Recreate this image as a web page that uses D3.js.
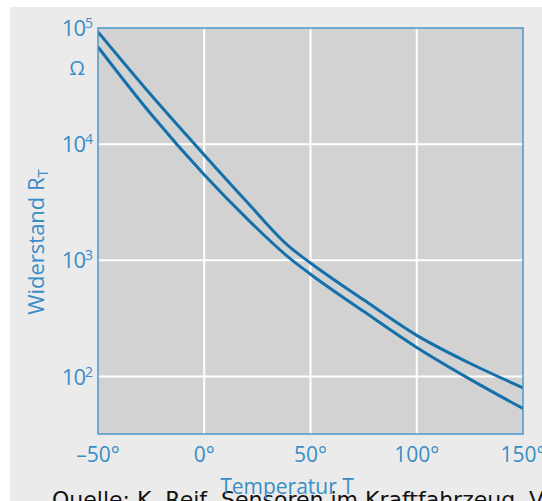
<!DOCTYPE html>
<html>
<head>
<meta charset="utf-8">
<script src="https://cdn.jsdelivr.net/npm/d3@7"></script>
<style>
  body { margin: 0; background: #fff; }
  svg { display: block; }
</style>
</head>
<body>
<div id="chart"></div>
<script>
// NTC-Kennlinien, Widerstand über Temperatur (log-Skala)

var temps = [-50, -25, 0, 20, 40, 50, 75, 100, 125, 150];
var upperR = [92400, 26450, 8070, 3195, 1312, 950, 457, 226, 130, 80];
var lowerR = [68660, 18090, 5460, 2296, 1051, 760, 364, 178, 95, 53];

var xTicks = [-50, 0, 50, 100, 150];
var xTickLabels = ["\u201350\u00b0", "0\u00b0", "50\u00b0", "100\u00b0", "150\u00b0"];
var yTicks = [100, 1000, 10000, 100000];
var yExponents = ["2", "3", "4", "5"];

var W = 542, H = 501;
var margin = {top: 28, right: 19, bottom: 67, left: 98},
    width = W - margin.left - margin.right,
    height = H - margin.top - margin.bottom;

var blue = "#1470ab", textBlue = "#3a8dc6", frame = "#4a98cc";

var svg = d3.select("#chart").append("svg")
    .attr("width", W)
    .attr("height", H);

// grauer Hintergrund
svg.append("rect")
    .attr("x", 10).attr("y", 7)
    .attr("width", W - 10).attr("height", H - 7)
    .attr("fill", "#ebebeb");

var g = svg.append("g")
    .attr("transform", "translate(" + margin.left + "," + margin.top + ")");

var x = d3.scaleLinear().domain([-50, 150]).range([0, width]);
var y = d3.scaleLog().domain([32, 100000]).range([height, 0]);

g.append("rect")
    .attr("width", width).attr("height", height)
    .attr("fill", "#d1d2d1");

// Gitter
g.selectAll(".vgrid")
    .data(xTicks.slice(1, -1))
  .enter().append("line")
    .attr("x1", function(d) { return x(d); })
    .attr("x2", function(d) { return x(d); })
    .attr("y1", 0).attr("y2", height)
    .attr("stroke", "#fff").attr("stroke-width", 2);

g.selectAll(".hgrid")
    .data(yTicks.slice(0, -1))
  .enter().append("line")
    .attr("x1", 0).attr("x2", width)
    .attr("y1", function(d) { return y(d); })
    .attr("y2", function(d) { return y(d); })
    .attr("stroke", "#fff").attr("stroke-width", 2);

g.append("clipPath").attr("id", "clip")
  .append("rect").attr("width", width).attr("height", height);

var line = d3.line()
    .x(function(d) { return x(d.t); })
    .y(function(d) { return y(d.r); })
    .curve(d3.curveMonotoneX);

[upperR, lowerR].forEach(function(vals) {
    var pts = temps.map(function(t, i) { return {t: t, r: vals[i]}; });
    g.append("path")
        .datum(pts)
        .attr("clip-path", "url(#clip)")
        .attr("fill", "none")
        .attr("stroke", blue)
        .attr("stroke-width", 3)
        .attr("d", line);
});

g.append("rect")
    .attr("width", width).attr("height", height)
    .attr("fill", "none")
    .attr("stroke", frame).attr("stroke-width", 1.5);

// Achsenbeschriftung x
g.selectAll(".xlab")
    .data(xTicks)
  .enter().append("text")
    .attr("x", function(d) { return x(d); })
    .attr("y", height + 28)
    .attr("text-anchor", "middle")
    .attr("font-family", "Open Sans, sans-serif")
    .attr("font-size", 21)
    .attr("fill", textBlue)
    .text(function(d, i) { return xTickLabels[i]; });

// Achsenbeschriftung y: 10 hoch n
var yl = g.selectAll(".ylab")
    .data(yTicks)
  .enter().append("text")
    .attr("x", -6)
    .attr("y", function(d) { return y(d) + 8; })
    .attr("text-anchor", "end")
    .attr("font-family", "Open Sans, sans-serif")
    .attr("font-size", 22)
    .attr("letter-spacing", -1)
    .attr("fill", textBlue);
yl.append("tspan").text("10");
yl.append("tspan")
    .attr("font-size", 14)
    .attr("dy", -8)
    .text(function(d, i) { return yExponents[i]; });

svg.append("text")
    .attr("x", 77).attr("y", 75)
    .attr("text-anchor", "middle")
    .attr("font-family", "Open Sans, sans-serif")
    .attr("font-size", 20)
    .attr("fill", textBlue)
    .text("\u03a9");

var yt = svg.append("text")
    .attr("transform", "translate(44,242) rotate(-90)")
    .attr("text-anchor", "middle")
    .attr("font-family", "Open Sans, sans-serif")
    .attr("font-size", 22)
    .attr("fill", textBlue);
yt.append("tspan").text("Widerstand R");
yt.append("tspan").attr("font-size", 15).attr("dy", 4).text("T");

// Quelle (unten abgeschnitten)
svg.append("text")
    .attr("x", 52).attr("y", 507)
    .attr("font-family", "DejaVu Sans, sans-serif")
    .attr("font-size", 22)
    .attr("fill", "#111")
    .text("Quelle: K. Reif, Sensoren im Kraftfahrzeug, Vieweg+Teubner");

svg.append("text")
    .attr("x", 287).attr("y", 494)
    .attr("text-anchor", "middle")
    .attr("font-family", "Open Sans, sans-serif")
    .attr("font-size", 21)
    .attr("fill", textBlue)
    .text("Temperatur T");
</script>
</body>
</html>
